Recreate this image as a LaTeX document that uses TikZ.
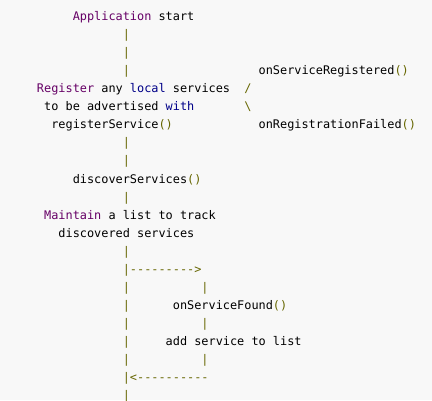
\documentclass[tikz,border=0pt]{standalone}
\usepackage{fontspec}
\newfontfamily\codefont{DejaVu Sans Mono}
\definecolor{bgc}{HTML}{F8F8F8}
\definecolor{pln}{HTML}{000000}
\definecolor{typ}{HTML}{660066}
\definecolor{kwd}{HTML}{000088}
\definecolor{pun}{HTML}{666600}
\newcommand\Ty[1]{\textcolor{typ}{#1}}
\newcommand\Kw[1]{\textcolor{kwd}{#1}}
\newcommand\Pu[1]{\textcolor{pun}{#1}}
\newcommand\seg[4]{\node[txt] (#1) at ({(37+7.15*#2)*1pt}, {(379-18*(#3-1))*1pt}) {#4};}
\tikzset{txt/.style={anchor=base west, inner sep=0pt, outer sep=0pt, text=pln,
  font=\codefont\fontsize{11.88pt}{18pt}\selectfont}}
\begin{document}
\begin{tikzpicture}
\fill[bgc] (0,0) rectangle (432pt,400pt);
\useasboundingbox (0,0) rectangle (432pt,400pt);
\seg{l1}{5}{1}{\Ty{Application} start}
\seg{p2}{12}{2}{\Pu{|}}
\seg{p3}{12}{3}{\Pu{|}}
\seg{p4}{12}{4}{\Pu{|}}
\seg{reg}{31}{4}{onServiceRegistered\Pu{()}}
\seg{l5}{0}{5}{\Ty{Register} any \Kw{local} services}
\seg{sl}{29}{5}{\Pu{/}}
\seg{l6}{1}{6}{to be advertised \Kw{with}}
\seg{bs}{29}{6}{\Pu{\char`\\}}
\seg{l7}{2}{7}{registerService\Pu{()}}
\seg{fail}{31}{7}{onRegistrationFailed\Pu{()}}
\seg{p8}{12}{8}{\Pu{|}}
\seg{p9}{12}{9}{\Pu{|}}
\seg{l10}{5}{10}{discoverServices\Pu{()}}
\seg{p11}{12}{11}{\Pu{|}}
\seg{l12}{1}{12}{\Ty{Maintain} a list to track}
\seg{l13}{3}{13}{discovered services}
\seg{p14}{12}{14}{\Pu{|}}
\seg{a15}{12}{15}{\Pu{|-{}-{}-{}-{}-{}-{}-{}-{}-{}>}}
\seg{p16}{12}{16}{\Pu{|}}
\seg{q16}{23}{16}{\Pu{|}}
\seg{p17}{12}{17}{\Pu{|}}
\seg{found}{19}{17}{onServiceFound\Pu{()}}
\seg{p18}{12}{18}{\Pu{|}}
\seg{q18}{23}{18}{\Pu{|}}
\seg{p19}{12}{19}{\Pu{|}}
\seg{add}{18}{19}{add service to list}
\seg{p20}{12}{20}{\Pu{|}}
\seg{q20}{23}{20}{\Pu{|}}
\seg{a21}{12}{21}{\Pu{|<-{}-{}-{}-{}-{}-{}-{}-{}-{}-{}}}
\seg{p22}{12}{22}{\Pu{|}}
\end{tikzpicture}
\end{document}
